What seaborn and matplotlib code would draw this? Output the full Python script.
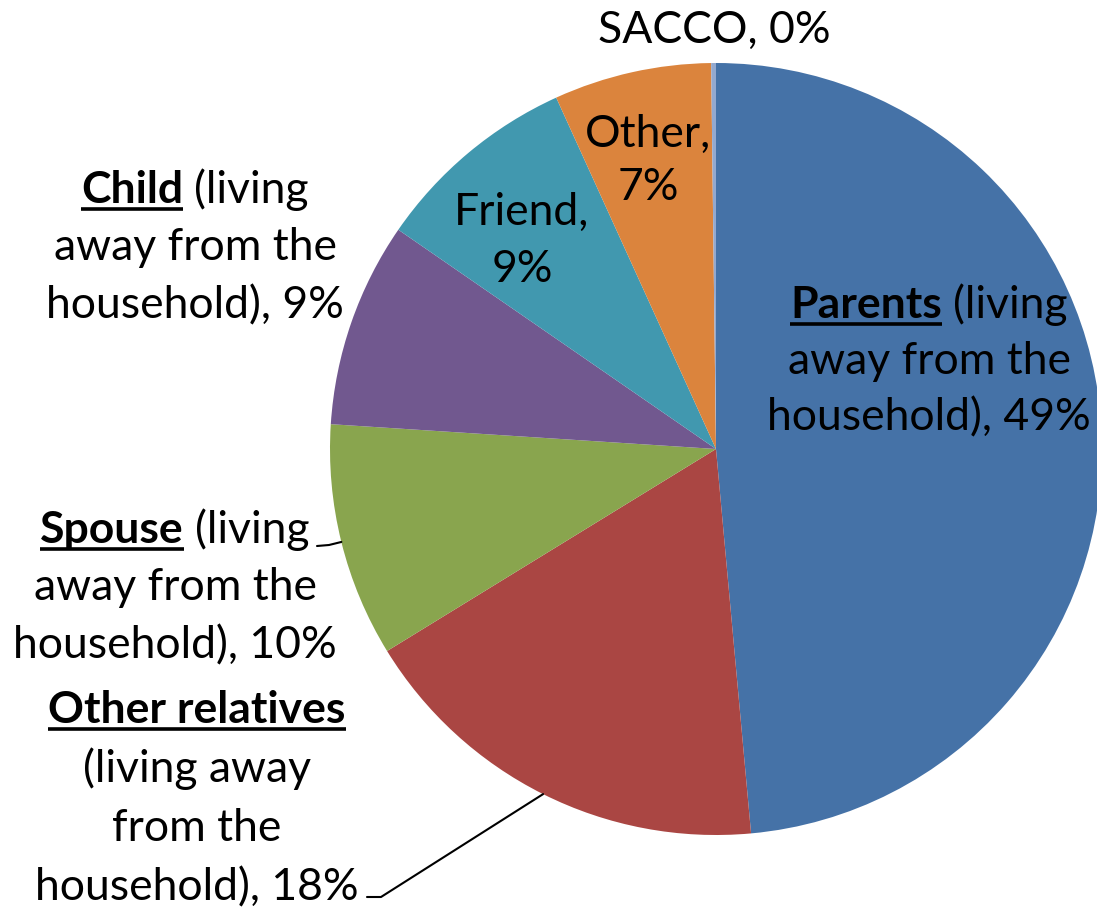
import matplotlib
matplotlib.use("Agg")
import matplotlib.pyplot as plt
import seaborn as sns
import numpy as np

# Share of remittance sources (percent of respondents)
categories = ["Parents", "Other relatives", "Spouse", "Child", "Friend", "Other", "SACCO"]
shares = [48.6, 17.7, 9.8, 8.6, 8.6, 6.6, 0.2]
colors = ["#4572A7", "#AA4643", "#89A54E", "#71588F", "#4198AF", "#DB843D", "#93A9CF"]

sns.set_theme(style="white")
plt.rcParams["font.family"] = ["Lato", "DejaVu Sans"]

W, H = 1097, 911
FS = 32
fig = plt.figure(figsize=(W / 100, H / 100), dpi=100)
ax = fig.add_axes([0, 0, 1, 1])

cx, cy, R = 716, 449, 386


def Y(py):
    return H - py


wedges, _ = ax.pie(shares, colors=colors, startangle=90, counterclock=False,
                   center=(cx, Y(cy)), radius=R,
                   wedgeprops=dict(linewidth=0))
ax.set_xlim(0, W)
ax.set_ylim(0, H)
ax.axis("off")

renderer = fig.canvas.get_renderer()
pct = {c: f"{v:.0f}%" for c, v in zip(categories, shares)}


def width_of(s, bold=False):
    t = ax.text(0, 0, s, fontsize=FS, fontweight="bold" if bold else "normal")
    w = t.get_window_extent(renderer).width
    t.remove()
    return w


SPACE = width_of("x x") - width_of("xx")


def line(xc, base, parts):
    """Draw one centred line made of (text, bold) pieces; bold pieces are underlined."""
    widths = [width_of(s, b) for s, b in parts]
    total = sum(widths) + SPACE * (len(parts) - 1)
    x = xc - total / 2
    for (s, b), w in zip(parts, widths):
        ax.text(x, Y(base), s, fontsize=FS, fontweight="bold" if b else "normal",
                ha="left", va="baseline", color="black")
        if b:
            ax.plot([x, x + w], [Y(base + 6)] * 2, color="black", lw=2.6,
                    solid_capstyle="butt")
        x += w + SPACE


def block(xc, base, rows, step=57.5):
    for i, parts in enumerate(rows):
        line(xc, base + i * step, parts)


# Labels
block(929, 318, [[("Parents", True), ("(living", False)],
                 [("away from the", False)],
                 [("household), " + pct["Parents"], False)]], step=56)
block(195, 203, [[("Child", True), ("(living", False)],
                 [("away from the", False)],
                 [("household), " + pct["Child"], False)]])
block(175, 543, [[("Spouse", True), ("(living", False)],
                 [("away from the", False)],
                 [("household), " + pct["Spouse"], False)]])
block(197, 723, [[("Other relatives", True)],
                 [("(living away", False)],
                 [("from the", False)],
                 [("household), " + pct["Other relatives"], False)]], step=59)
block(522, 225, [[("Friend,", False)], [(pct["Friend"], False)]])
block(648, 147, [[("Other,", False)], [(pct["Other"], False)]], step=53)
block(714, 43, [[("SACCO, " + pct["SACCO"], False)]])


# Leader lines to the wedge mid-points
def edge_point(w):
    mid = np.deg2rad((w.theta1 + w.theta2) / 2)
    return cx + R * np.cos(mid), Y(cy) + R * np.sin(mid)


ex, ey = edge_point(wedges[categories.index("Spouse")])
ax.plot([317, 329, ex], [Y(546), Y(545), ey], color="black", lw=1.5)
ex, ey = edge_point(wedges[categories.index("Other relatives")])
ax.plot([367, 381, ex], [Y(897), Y(897), ey], color="black", lw=1.5)

fig.savefig("out.png", dpi=100, facecolor="white")
